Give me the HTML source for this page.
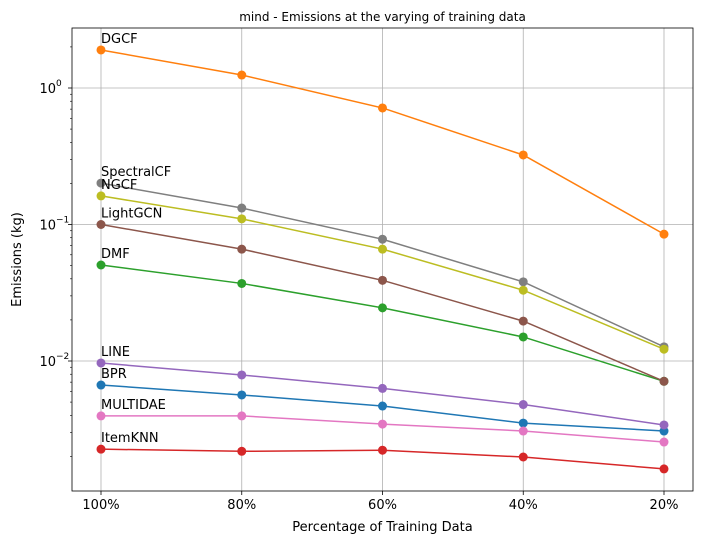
<!DOCTYPE html>
<html><head><meta charset="utf-8"><style>
body{margin:0;background:#fff;font-family:"Liberation Sans","DejaVu Sans",sans-serif}
svg text{font-family:"DejaVu Sans","Liberation Sans",sans-serif}
</style></head><body>
<svg id="chart" width="702" height="544" xmlns="http://www.w3.org/2000/svg">
<rect width="702" height="544" fill="#fff"/>
<g id="grid"></g><g id="axes"></g><g id="series"></g>
</svg>
<script>
const categories=["100%","80%","60%","40%","20%"];
const seriesNames=["BPR","DGCF","DMF","ItemKNN","LINE","LightGCN","MULTIDAE","SpectralCF","NGCF"];
const colors=["#1f77b4","#ff7f0e","#2ca02c","#d62728","#9467bd","#8c564b","#e377c2","#7f7f7f","#bcbd22"];
const bprValues=[0.00667,0.00564,0.00468,0.00351,0.00307];
const dgcfValues=[1.90,1.245,0.714,0.323,0.085];
const dmfValues=[0.0505,0.037,0.0245,0.015,0.0071];
const itemknnValues=[0.00226,0.00218,0.00222,0.00198,0.00162];
const lineValues=[0.00967,0.0079,0.0063,0.0048,0.0034];
const lightgcnValues=[0.1,0.066,0.039,0.0196,0.0071];
const multidaeValues=[0.00396,0.00396,0.00345,0.00307,0.00255];
const spectralcfValues=[0.201,0.132,0.078,0.038,0.0127];
const ngcfValues=[0.162,0.110,0.066,0.033,0.0122];
const allValues=[bprValues,dgcfValues,dmfValues,itemknnValues,lineValues,lightgcnValues,multidaeValues,spectralcfValues,ngcfValues];
const yTickLabels=["10","10","10"];const yTickExps=[-2,-1,0];

const NS="http://www.w3.org/2000/svg";
const L=72,R=693,T=28,B=491;
const x=i=>101+i*(664-101)/(categories.length-1);
const y=v=>88-136.5*Math.log10(v);
function mk(tag,attrs,parent){const e=document.createElementNS(NS,tag);for(const k in attrs)e.setAttribute(k,attrs[k]);parent.appendChild(e);return e;}
const grid=document.getElementById('grid'),axes=document.getElementById('axes'),ser=document.getElementById('series');
// grid
categories.forEach((c,i)=>{
 const g=mk('line',{x1:x(i),x2:x(i),y1:T,y2:B,stroke:'#b0b0b0','stroke-width':0.8},grid);
 
 mk('line',{x1:x(i),x2:x(i),y1:B,y2:B+4,stroke:'#000','stroke-width':0.8},axes);
 const t=mk('text',{x:x(i),y:B+18,'text-anchor':'middle','font-size':13},axes);t.textContent=c;
 
});
yTickExps.forEach((e,i)=>{
 const yy=y(Math.pow(10,e));
 const g=mk('line',{x1:L,x2:R,y1:yy,y2:yy,stroke:'#b0b0b0','stroke-width':0.8},grid);
 
 mk('line',{x1:L-4,x2:L,y1:yy,y2:yy,stroke:'#000','stroke-width':0.8},axes);
 const t=mk('text',{x:L-16,y:yy+5,'text-anchor':'end','font-size':13},axes);t.textContent=yTickLabels[i];
 
 const s=mk('text',{x:L-16,y:yy-2,'font-size':9},axes);s.textContent=String(e).replace('-','−');
});
for(let e=-3;e<=0;e++)for(let m=2;m<=9;m++){const v=m*Math.pow(10,e);const yy=y(v);if(yy<T||yy>B)continue;mk('line',{x1:L-2,x2:L,y1:yy,y2:yy,stroke:'#000','stroke-width':0.6},axes);}
const frame=mk('rect',{x:L,y:T,width:R-L,height:B-T,fill:'none',stroke:'#000','stroke-width':0.8},axes);

let t=mk('text',{x:(L+R)/2,y:21,'text-anchor':'middle','font-size':12},axes);t.textContent='mind - Emissions at the varying of training data';

t=mk('text',{x:(L+R)/2,y:531,'text-anchor':'middle','font-size':13},axes);t.textContent='Percentage of Training Data';

t=mk('text',{x:21,y:(T+B)/2,'text-anchor':'middle','font-size':13,transform:`rotate(-90 21 ${(T+B)/2})`},axes);t.textContent='Emissions (kg)';

// series
allValues.forEach((vals,s)=>{
 const g=mk('g',{},ser);
 
 const p=mk('polyline',{points:vals.map((v,i)=>x(i)+','+y(v)).join(' '),fill:'none',stroke:colors[s],'stroke-width':1.5},g);
 
 vals.forEach((v,i)=>{const c=mk('circle',{cx:x(i),cy:y(v),r:4.5,fill:colors[s]},g);
  });
 const lb=mk('text',{x:x(0),y:y(vals[0])-7,'font-size':13},g);lb.textContent=seriesNames[s];
 
});
</script>
</body></html>
